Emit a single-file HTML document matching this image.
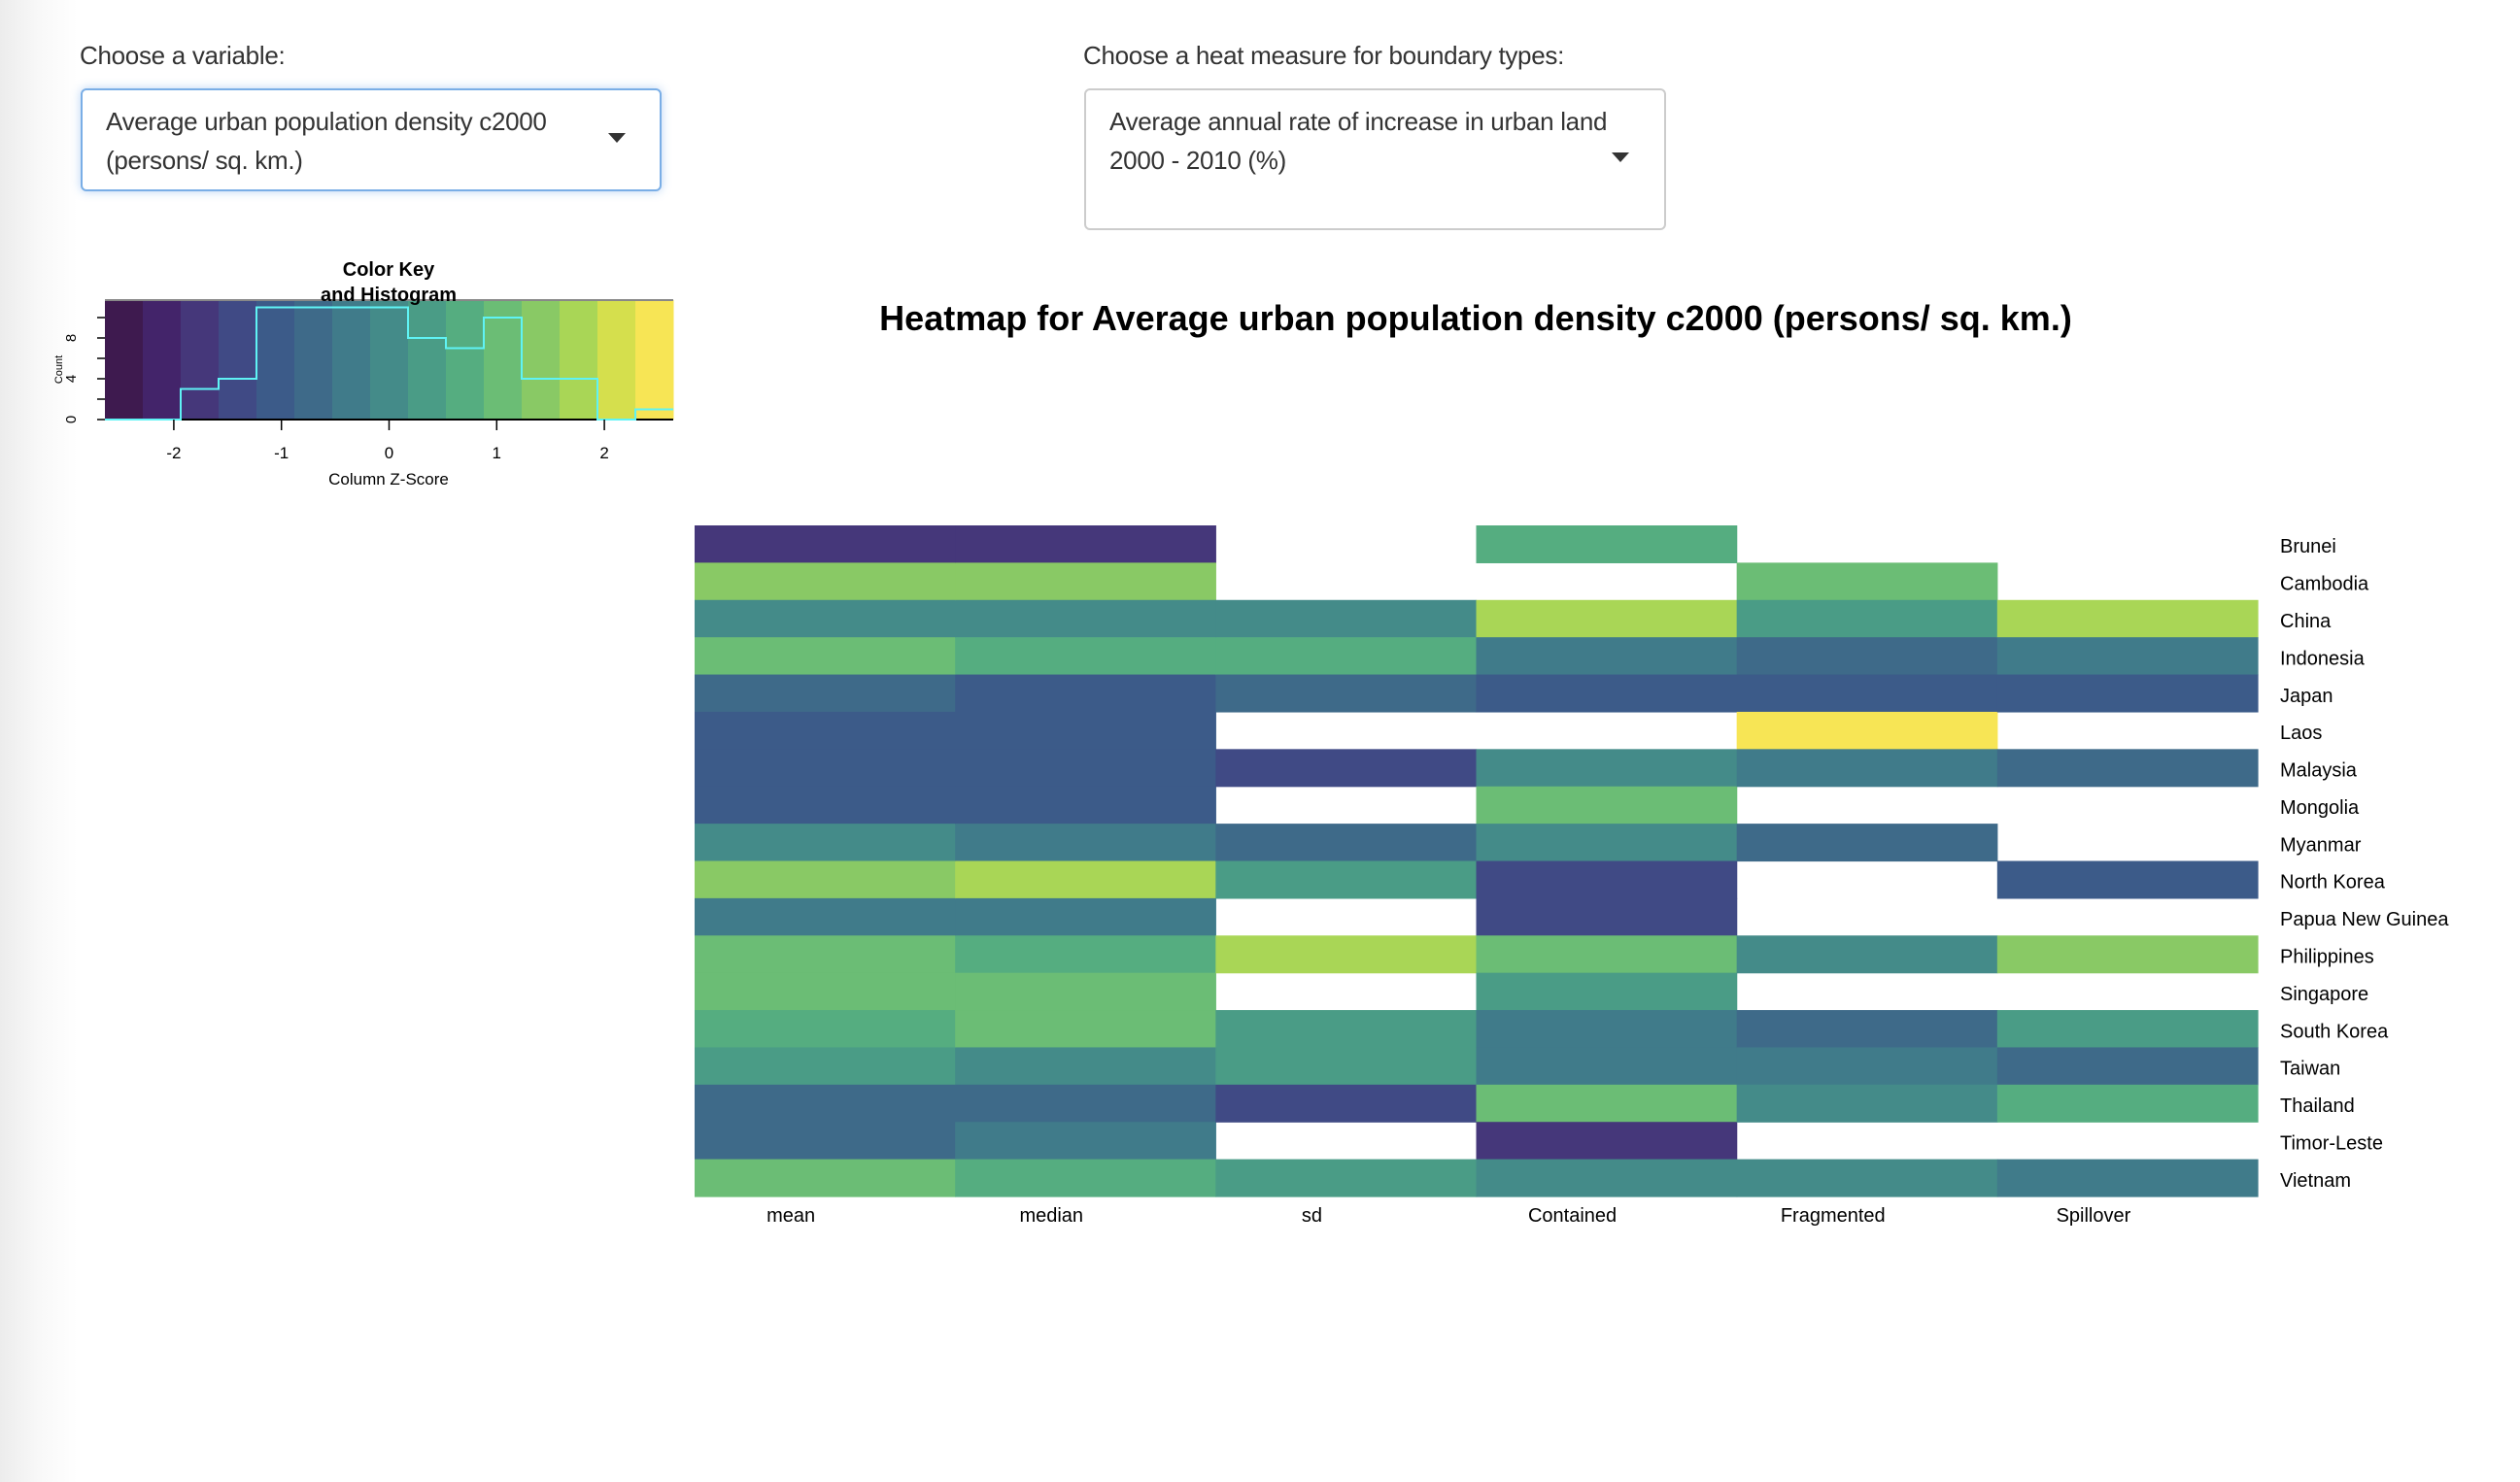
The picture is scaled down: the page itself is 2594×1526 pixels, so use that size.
<!DOCTYPE html>
<html><head><meta charset="utf-8"><style>
html,body{margin:0;padding:0;}
body{width:2594px;height:1526px;overflow:hidden;background:linear-gradient(to right,#ececec 0px,#f8f8f8 40px,#fff 80px);font-family:"Liberation Sans",sans-serif;position:relative;}
.lbl{position:absolute;font-size:26px;color:#333;font-weight:300;letter-spacing:-0.3px;}
.dd{position:absolute;background:#fff;border-radius:6px;font-size:26px;color:#333;line-height:40px;box-sizing:border-box;padding:12px 24px;letter-spacing:-0.3px;}
.caret{position:absolute;width:0;height:0;border-left:9px solid transparent;border-right:9px solid transparent;border-top:10px solid #333;}
svg{position:absolute;left:0;top:0;}
</style></head><body>
<div class="lbl" style="left:82px;top:42px;">Choose a variable:</div>
<div class="dd" style="left:83px;top:91px;width:598px;height:106px;border:2px solid #7aaee6;box-shadow:0 0 10px rgba(100,160,230,0.45);">Average urban population density c2000<br>(persons/ sq. km.)<div class="caret" style="left:541px;top:44px;"></div></div>
<div class="lbl" style="left:1115px;top:42px;">Choose a heat measure for boundary types:</div>
<div class="dd" style="left:1116px;top:91px;width:599px;height:146px;border:2px solid #ccc;">Average annual rate of increase in urban land<br>2000 - 2010 (%)<div class="caret" style="left:541px;top:64px;"></div></div>

<svg id="chart" width="2594" height="1526" xmlns="http://www.w3.org/2000/svg" font-family="Liberation Sans, sans-serif"></svg>
<script>
const countries=["Brunei","Cambodia","China","Indonesia","Japan","Laos","Malaysia","Mongolia","Myanmar","North Korea","Papua New Guinea","Philippines","Singapore","South Korea","Taiwan","Thailand","Timor-Leste","Vietnam"];
const measures=["mean","median","sd","Contained","Fragmented","Spillover"];
const zMean=[-1.76,1.41,0.00,1.06,-0.70,-1.06,-1.06,-1.06,0.00,1.41,-0.35,1.06,1.06,0.70,0.35,-0.70,-0.70,1.06];
const zMedian=[-1.76,1.41,0.00,0.70,-1.06,-1.06,-1.06,-1.06,-0.35,1.76,-0.35,0.70,1.06,1.06,0.00,-0.70,-0.35,0.70];
const zSd=[null,null,0.00,0.70,-0.70,null,-1.41,null,-0.70,0.35,null,1.76,null,0.35,0.35,-1.41,null,0.35];
const zContained=[0.70,null,1.76,-0.35,-1.06,null,0.00,1.06,0.00,-1.41,-1.41,1.06,0.35,-0.35,-0.35,1.06,-1.76,0.00];
const zFragmented=[null,1.06,0.35,-0.70,-1.06,2.46,-0.35,null,-0.70,null,null,0.00,null,-0.70,-0.35,0.00,null,0.00];
const zSpillover=[null,null,1.76,-0.35,-1.06,null,-0.70,null,null,-1.06,null,1.41,null,0.35,-0.70,0.70,null,-0.35];
const histCounts=[0,0,3,4,11,11,11,11,8,7,10,4,4,0,1];
const keyTicks=[-2,-1,0,1,2];
const countTicks=[0,4,8];

const palette=["#3e1a4f","#43246a","#45377a","#404a85","#3c5b89","#3e6a89","#407b8a","#448b89","#4a9c86","#55ad80","#6bbd75","#89c965","#a9d656","#d5df4d","#f7e555"];
const zMin=-2.64,zMax=2.64,nb=15;
const NS="http://www.w3.org/2000/svg";
const svg=document.getElementById('chart');
function mk(tag,attrs,parent){const e=document.createElementNS(NS,tag);for(const k in attrs)e.setAttribute(k,attrs[k]);(parent||svg).appendChild(e);return e;}
function bin(z){let i=Math.floor((z-zMin)/(zMax-zMin)*nb);return Math.max(0,Math.min(nb-1,i));}

// heatmap
const hx0=715,hx1=2324,hy0=541,hy1=1232;
const cw=(hx1-hx0)/measures.length, rh=(hy1-hy0)/countries.length;
const xCol=j=>hx0+j*cw, yRow=i=>hy0+i*rh;
const cols=[zMean,zMedian,zSd,zContained,zFragmented,zSpillover];
const g=mk('g',{});


cols.forEach((arr,j)=>arr.forEach((v,i)=>{
  if(v===null)return;
  const r=mk('rect',{x:xCol(j),y:yRow(i),width:cw+0.6,height:rh+0.6,fill:palette[bin(v)]},g);
  
  
}));
countries.forEach((c,i)=>{
  const t=mk('text',{x:2347,y:yRow(i)+rh/2+9,'font-size':20,fill:'#000'});
  t.textContent=c;
  
  
});
measures.forEach((m,j)=>{
  const t=mk('text',{x:xCol(j)+cw/2-35,y:1258,'font-size':20,fill:'#000','text-anchor':'middle'});
  t.textContent=m;
  
  
});
const title=mk('text',{x:1519,y:340,'font-size':36,'font-weight':'bold','text-anchor':'middle',fill:'#000'});
title.textContent="Heatmap for Average urban population density c2000 (persons/ sq. km.)";



// color key
const kx0=108,kx1=693,ky0=309,ky1=432;
const kx=z=>kx0+(z-zMin)/(zMax-zMin)*(kx1-kx0);
const ky=c=>ky1-c*31.5/3;
const bw=(kx1-kx0)/nb;
const kg=mk('g',{});


palette.forEach((c,i)=>{const r=mk('rect',{x:kx0+i*bw,y:ky0,width:bw+0.5,height:ky1-ky0,fill:c},kg);
  
  });
mk('line',{x1:kx0,y1:ky0,x2:kx1,y2:ky0,stroke:'#888','stroke-width':2},kg);
mk('line',{x1:kx0,y1:ky1,x2:kx1,y2:ky1,stroke:'#000','stroke-width':2},kg);
let d='';
histCounts.forEach((c,i)=>{const xa=kx0+i*bw,xb=xa+bw;d+=(i===0?'M':'L')+xa+','+ky(c)+'L'+xb+','+ky(c);});
const hp=mk('path',{d:d,fill:'none',stroke:'#5ff3f5','stroke-width':2},kg);


for(let c=0;c<=10;c+=2){mk('line',{x1:kx0-8,y1:ky(c),x2:kx0,y2:ky(c),stroke:'#000','stroke-width':1.5},kg);}
countTicks.forEach(c=>{const t=mk('text',{x:0,y:0,'font-size':15,'text-anchor':'middle',transform:`translate(78,${ky(c)}) rotate(-90)`},kg);t.textContent=c;
  
  });
const cl=mk('text',{x:0,y:0,'font-size':11,'text-anchor':'middle',transform:`translate(64,${(ky0+ky1)/2+10}) rotate(-90)`},kg);cl.textContent='Count';


keyTicks.forEach(z=>{mk('line',{x1:kx(z),y1:ky1,x2:kx(z),y2:ky1+11,stroke:'#000','stroke-width':1.5},kg);
  const t=mk('text',{x:kx(z),y:472,'font-size':17,'text-anchor':'middle'},kg);t.textContent=String(z);
  
  });
const zt=mk('text',{x:400,y:499,'font-size':17,'text-anchor':'middle'},kg);zt.textContent='Column Z-Score';


const k1=mk('text',{x:400,y:284,'font-size':20,'font-weight':'bold','text-anchor':'middle'},kg);k1.textContent='Color Key';


const k2=mk('text',{x:400,y:310,'font-size':20,'font-weight':'bold','text-anchor':'middle'},kg);k2.textContent='and Histogram';


</script>
</body></html>
